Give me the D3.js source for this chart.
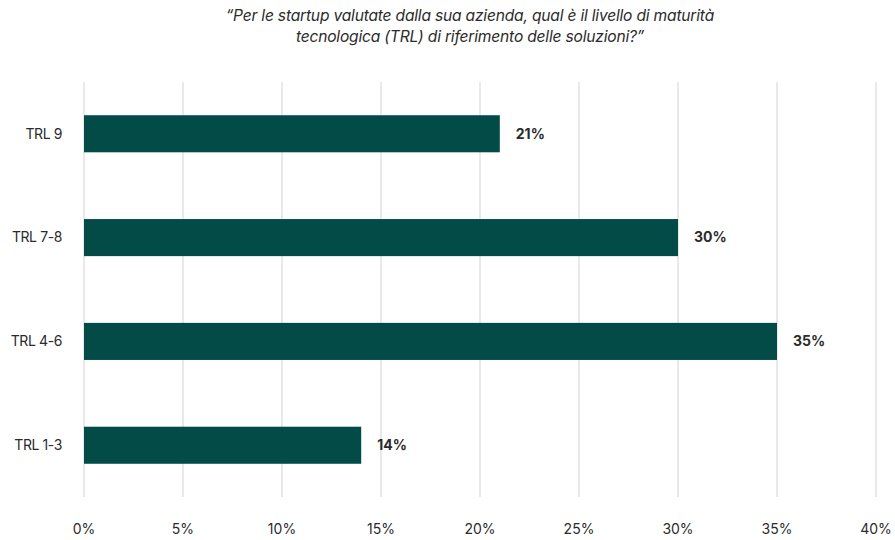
<!DOCTYPE html>
<html>
<head>
<meta charset="utf-8">
<script src="https://cdn.jsdelivr.net/npm/d3@7"></script>
<style>
  body { margin: 0; background: #fff; }
  text { font-family: Inter, "Noto Sans", sans-serif; fill: #2b2b2b; }
</style>
</head>
<body>
<svg width="895" height="540"></svg>
<script>
const categories = ["TRL 9", "TRL 7-8", "TRL 4-6", "TRL 1-3"]
const values = [21, 30, 35, 14]
const ticks = [0, 5, 10, 15, 20, 25, 30, 35, 40]
const titleLines = [
  "\u201cPer le startup valutate dalla sua azienda, qual è il livello di maturità",
  "tecnologica (TRL) di riferimento delle soluzioni?\u201d"
]

const svg = d3.select("svg")
const margin = { left: 84, right: 19, top: 82, bottom: 43 }
const width = 895, height = 540

const x = d3.scaleLinear().domain([0, 40]).range([margin.left, width - margin.right])
const y = d3.scaleBand().domain(categories).range([margin.top, height - margin.bottom]).paddingInner(0.643).paddingOuter(0.32)

// title
svg.append("g").selectAll("text")
  .data(titleLines)
  .enter().append("text")
  .attr("x", 470)
  .attr("y", (d, i) => 21 + i * 21)
  .attr("text-anchor", "middle")
  .style("font-size", "15.6px")
  .style("font-style", "italic")
  .style("letter-spacing", "-0.2px")
  .text(d => d)

// grid
svg.append("g").selectAll("line")
  .data(ticks)
  .enter().append("line")
  .attr("x1", d => x(d)).attr("x2", d => x(d))
  .attr("y1", margin.top).attr("y2", height - margin.bottom)
  .attr("stroke", "#e2e2e2")
  .attr("stroke-width", 1.5)

// x axis labels
svg.append("g").selectAll("text")
  .data(ticks)
  .enter().append("text")
  .attr("x", d => x(d))
  .attr("y", 534)
  .attr("text-anchor", "middle")
  .style("font-size", "14px")
  .text(d => d + "%")

// bars
svg.append("g").selectAll("rect")
  .data(values)
  .enter().append("rect")
  .attr("x", x(0))
  .attr("y", (d, i) => y(categories[i]))
  .attr("width", d => x(d) - x(0))
  .attr("height", y.bandwidth())
  .attr("fill", "#024b47")

// value labels
svg.append("g").selectAll("text")
  .data(values)
  .enter().append("text")
  .attr("x", d => x(d) + 16)
  .attr("y", (d, i) => y(categories[i]) + y.bandwidth() / 2)
  .attr("dy", "0.35em")
  .style("font-size", "14px")
  .style("font-weight", "bold")
  .text(d => d + "%")

// category labels
svg.append("g").selectAll("text")
  .data(categories)
  .enter().append("text")
  .attr("x", 62)
  .attr("y", d => y(d) + y.bandwidth() / 2)
  .attr("dy", "0.35em")
  .attr("text-anchor", "end")
  .style("font-size", "14px")
  .style("letter-spacing", "-0.4px")
  .text(d => d)
</script>
</body>
</html>
